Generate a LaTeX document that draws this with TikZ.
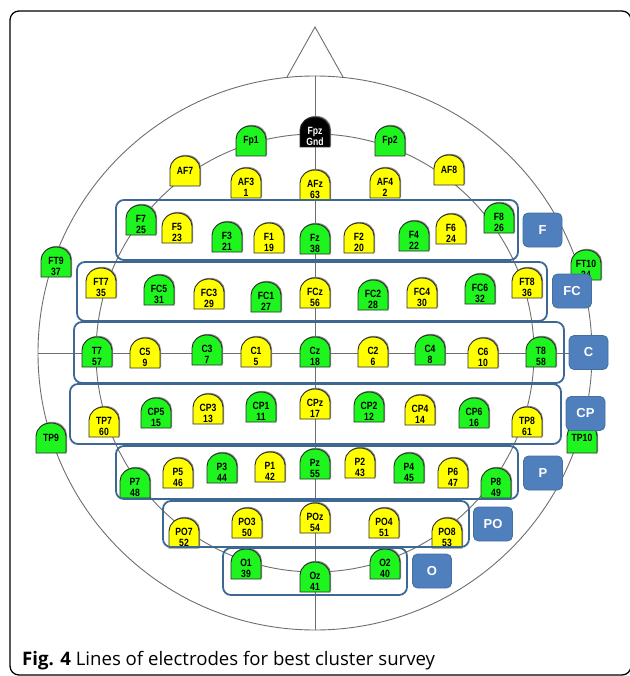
\documentclass[tikz,border=0pt]{standalone}
\usepackage{fontspec}
\setmainfont{Liberation Sans}
\newfontfamily\narrowfont{Liberation Sans}[FakeStretch=0.82]
\newfontfamily\capfont{Open Sans}
\usetikzlibrary{calc}

\definecolor{elecgreen}{HTML}{1EF51E}
\definecolor{elecyellow}{HTML}{FFFF00}
\definecolor{elecedge}{HTML}{2B2B2B}
\definecolor{headgray}{HTML}{6E6E6E}
\definecolor{clusterblue}{HTML}{3D6894}
\definecolor{tagfill}{HTML}{4F7FBC}
\definecolor{tagedge}{HTML}{41709F}

\tikzset{
  elecshape/.style={draw=elecedge, line width=0.9pt},
  elecshadow/.style={fill=black!45},
  gfill/.style={fill=elecgreen},
  yfill/.style={fill=elecyellow},
  kfill/.style={fill=black},
  electext/.style={inner sep=0pt, align=center,
    font=\narrowfont\bfseries\fontsize{10.5}{11}\selectfont},
  headline/.style={draw=headgray, line width=0.9pt},
  clusterbox/.style={draw=clusterblue, line width=1.8pt, rounded corners=8pt,
    inner sep=0pt},
  tagbox/.style={fill=tagfill, draw=tagedge, line width=0.8pt, rounded corners=5pt,
    minimum width=39pt, minimum height=34pt, inner sep=0pt, text=white,
    font=\bfseries\fontsize{13}{13}\selectfont},
}

% electrode outline: flat bottom, straight sides, rounded top
\newcommand\elecoutline[2]{%
  (#1-15,#2+15) -- (#1-15,#2-2)
    .. controls (#1-15,#2-9.2) and (#1-8.3,#2-15) .. (#1,#2-15)
    .. controls (#1+8.3,#2-15) and (#1+15,#2-9.2) .. (#1+15,#2-2)
    -- (#1+15,#2+15) -- cycle}
\newcommand\elecpath[3]{%
  \path[elecshadow, shift={(1pt,1.2pt)}] \elecoutline{#1}{#2};
  \path[elecshape,#3] \elecoutline{#1}{#2};}
% electrode with name and channel number
\newcommand\elecA[6]{%
  \elecpath{#2}{#3}{#4}%
  \node[electext] (#1) at (#2,#3+4) {#5\\#6};}
% electrode with name only
\newcommand\elecB[5]{%
  \elecpath{#2}{#3}{#4}%
  \node[electext] (#1) at (#2,#3) {#5};}

\begin{document}
\begin{tikzpicture}[x=1pt,y=-1pt]
\useasboundingbox (0,0) rectangle (629,676);

% outer frame of the figure
\draw[line width=1.3pt, rounded corners=9pt] (10,11) rectangle (631,675);

% head outline, nose and midlines
\coordinate (centre) at (315,353);
\coordinate (nasion) at (315,76);
\coordinate (inion)  at (315,630);
\coordinate (leftear) at (38,353);
\coordinate (rightear) at (592,353);
\coordinate (noseL) at (287,77);
\coordinate (noseR) at (343,77);
\coordinate (noseTip) at (315,27);
\draw[headline] (centre) circle[radius=277pt];
\draw[headline] (centre) circle[radius=219pt];
\draw[headline] (noseL) -- (noseTip) -- (noseR);
\draw[headline] (nasion) -- (inion);
\draw[headline] (leftear) -- (rightear);

% frontal pole
\elecB{Fp1}{251}{141}{gfill}{Fp1}
\elecpath{315}{132}{kfill}
\node[electext, text=white] (Fpz) at (315,136) {Fpz\\Gnd};
\elecB{Fp2}{390}{141}{gfill}{Fp2}

% anterior frontal
\elecB{AF7}{185}{171}{yfill}{AF7}
\elecA{AF3}{246}{183}{yfill}{AF3}{1}
\elecA{AFz}{315}{185}{yfill}{AFz}{63}
\elecA{AF4}{385}{183}{yfill}{AF4}{2}
\elecB{AF8}{449}{170}{yfill}{AF8}

% frontal
\elecA{F7}{141}{220}{gfill}{F7}{25}
\elecA{F5}{177}{228}{yfill}{F5}{23}
\elecA{F3}{227}{237}{gfill}{F3}{21}
\elecA{F1}{269}{238}{yfill}{F1}{19}
\elecA{Fz}{315}{239}{gfill}{Fz}{38}
\elecA{F2}{359}{238}{yfill}{F2}{20}
\elecA{F4}{414}{236}{gfill}{F4}{22}
\elecA{F6}{451}{229}{yfill}{F6}{24}
\elecA{F8}{499}{218}{gfill}{F8}{26}

% fronto-central
\elecA{FT9}{56}{262}{gfill}{FT9}{37}
\elecA{FT7}{101}{283}{yfill}{FT7}{35}
\elecA{FC5}{159}{290}{gfill}{FC5}{31}
\elecA{FC3}{209}{294}{yfill}{FC3}{29}
\elecA{FC1}{266}{297}{gfill}{FC1}{27}
\elecA{FCz}{315}{293}{yfill}{FCz}{56}
\elecA{FC2}{373}{295}{gfill}{FC2}{28}
\elecA{FC4}{422}{293}{yfill}{FC4}{30}
\elecA{FC6}{480}{289}{gfill}{FC6}{32}
\elecA{FT8}{527}{283}{yfill}{FT8}{36}
\elecA{FT10}{586}{265}{gfill}{FT10}{34}

% central
\elecA{T7}{97}{352}{gfill}{T7}{57}
\elecA{C5}{145}{353}{yfill}{C5}{9}
\elecA{C3}{207}{350}{gfill}{C3}{7}
\elecA{C1}{256}{352}{yfill}{C1}{5}
\elecA{Cz}{315}{352}{gfill}{Cz}{18}
\elecA{C2}{373}{352}{yfill}{C2}{6}
\elecA{C4}{430}{350}{gfill}{C4}{8}
\elecA{C6}{483}{353}{yfill}{C6}{10}
\elecA{T8}{541}{352}{gfill}{T8}{58}

% centro-parietal
\elecB{TP9}{51}{438}{gfill}{TP9}
\elecA{TP7}{104}{422}{yfill}{TP7}{60}
\elecA{CP5}{156}{413}{gfill}{CP5}{15}
\elecA{CP3}{208}{409}{yfill}{CP3}{13}
\elecA{CP1}{261}{407}{gfill}{CP1}{11}
\elecA{CPz}{315}{404}{yfill}{CPz}{17}
\elecA{CP2}{369}{407}{gfill}{CP2}{12}
\elecA{CP4}{420}{410}{yfill}{CP4}{14}
\elecA{CP6}{474}{413}{gfill}{CP6}{16}
\elecA{TP8}{527}{422}{yfill}{TP8}{61}
\elecB{TP10}{582}{438}{gfill}{TP10}

% parietal
\elecA{P7}{135}{483}{gfill}{P7}{48}
\elecA{P5}{178}{473}{yfill}{P5}{46}
\elecA{P3}{222}{468}{gfill}{P3}{44}
\elecA{P1}{270}{467}{yfill}{P1}{42}
\elecA{Pz}{315}{464}{gfill}{Pz}{55}
\elecA{P2}{360}{463}{yfill}{P2}{43}
\elecA{P4}{409}{468}{gfill}{P4}{45}
\elecA{P6}{453}{473}{yfill}{P6}{47}
\elecA{P8}{496}{483}{gfill}{P8}{49}

% parieto-occipital
\elecA{PO7}{184}{533}{yfill}{PO7}{52}
\elecA{PO3}{247}{523}{yfill}{PO3}{50}
\elecA{POz}{315}{518}{yfill}{POz}{54}
\elecA{PO4}{384}{523}{yfill}{PO4}{51}
\elecA{PO8}{447}{533}{yfill}{PO8}{53}

% occipital
\elecA{O1}{246}{564}{gfill}{O1}{39}
\elecA{Oz}{315}{577}{gfill}{Oz}{41}
\elecA{O2}{385}{564}{gfill}{O2}{40}

% electrode lines grouped into clusters
\node[clusterbox, minimum width=402pt, minimum height=60pt] (rowF)  at (317,230) {};
\node[clusterbox, minimum width=470pt, minimum height=59pt] (rowFC) at (312,291.5) {};
\node[clusterbox, minimum width=490pt, minimum height=61pt] (rowC)  at (319,352.5) {};
\node[clusterbox, minimum width=491pt, minimum height=60pt] (rowCP) at (315.5,414) {};
\node[clusterbox, minimum width=402pt, minimum height=53pt] (rowP)  at (317,472.5) {};
\node[clusterbox, minimum width=306pt, minimum height=46pt] (rowPO) at (316,524) {};
\node[clusterbox, minimum width=184pt, minimum height=47pt] (rowO)  at (315,571.5) {};

% cluster tags
\node[tagbox] (tagF)  at (542.5,230) {F};
\node[tagbox] (tagFC) at (572,291) {FC};
\node[tagbox] (tagC)  at (588.5,352.5) {C};
\node[tagbox] (tagCP) at (585.5,413.5) {CP};
\node[tagbox] (tagP)  at (543,473) {P};
\node[tagbox] (tagPO) at (493,524) {PO};
\node[tagbox] (tagO)  at (432,571) {O};

% caption
\node[anchor=base west, inner sep=0pt, font=\capfont\fontsize{18.6}{18.6}\selectfont]
  (caption) at (22,665) {\textbf{Fig. 4} Lines of electrodes for best cluster survey};
\end{tikzpicture}
\end{document}
